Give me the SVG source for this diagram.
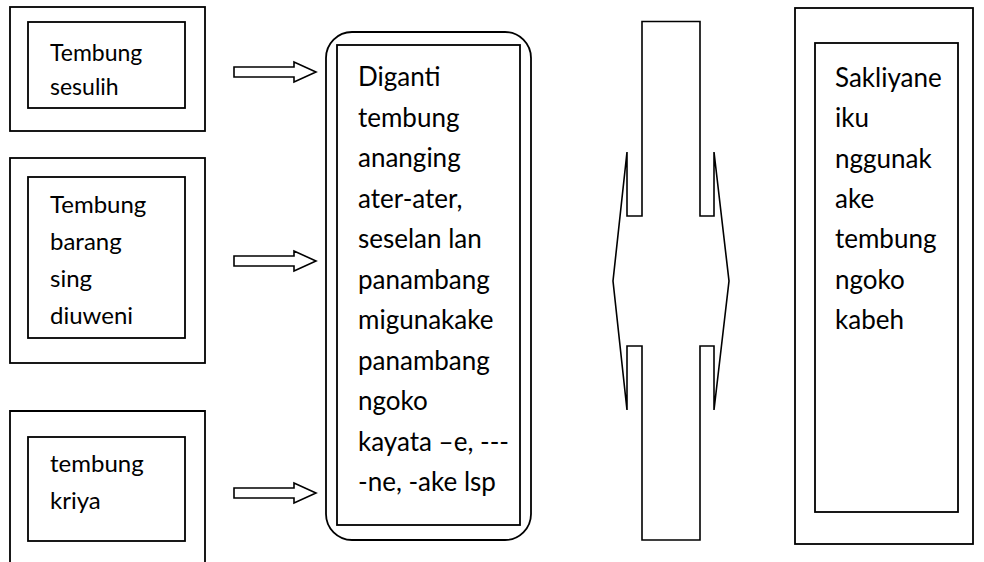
<svg xmlns="http://www.w3.org/2000/svg" width="984" height="562" viewBox="0 0 984 562">
  <style>
    .box { fill: none; stroke: #000; stroke-width: 1.8; }
    .arrow { fill: #fff; stroke: #000; stroke-width: 1.6; stroke-linejoin: miter; }
    .txt { font-family: Lato, "Open Sans", sans-serif; fill: #000; }
    .s1 { font-size: 23px; }
    .s2 { font-size: 24px; }
    .s3 { font-size: 26px; }
  </style>
  <rect width="984" height="562" fill="#fff"/>

  <!-- left column -->
  <g id="node-sesulih">
    <rect class="box" x="10" y="7" width="195" height="124"/>
    <rect class="box" x="28" y="22" width="157" height="86"/>
    <text class="txt s1" x="50">
      <tspan x="50" y="60.5">Tembung</tspan>
      <tspan x="50" y="95">sesulih</tspan>
    </text>
  </g>

  <g id="node-barang">
    <rect class="box" x="10" y="158" width="195" height="205"/>
    <rect class="box" x="28" y="177" width="157" height="161"/>
    <text class="txt s2" x="50">
      <tspan x="50" y="213">Tembung</tspan>
      <tspan x="50" y="250">barang</tspan>
      <tspan x="50" y="287">sing</tspan>
      <tspan x="50" y="324">diuweni</tspan>
    </text>
  </g>

  <g id="node-kriya">
    <path class="box" d="M10,563 V411 H205 V563"/>
    <rect class="box" x="28" y="437" width="157" height="104"/>
    <text class="txt s2" x="50">
      <tspan x="50" y="472">tembung</tspan>
      <tspan x="50" y="509">kriya</tspan>
    </text>
  </g>

  <!-- centre box -->
  <g id="node-diganti">
    <rect class="box" x="326" y="32" width="205" height="508" rx="26" ry="26"/>
    <rect class="box" x="337" y="45" width="183" height="480"/>
    <text class="txt s3" x="358">
      <tspan x="358" y="86">Diganti</tspan>
      <tspan x="358" y="126.5">tembung</tspan>
      <tspan x="358" y="167">ananging</tspan>
      <tspan x="358" y="207.5">ater-ater,</tspan>
      <tspan x="358" y="248">seselan lan</tspan>
      <tspan x="358" y="288.5">panambang</tspan>
      <tspan x="358" y="329">migunakake</tspan>
      <tspan x="358" y="369.5">panambang</tspan>
      <tspan x="358" y="410">ngoko</tspan>
      <tspan x="358" y="450.5">kayata –e, ---</tspan>
      <tspan x="358" y="491">-ne, -ake lsp</tspan>
    </text>
  </g>

  <!-- right box -->
  <g id="node-sakliyane">
    <rect class="box" x="795" y="8" width="178" height="536"/>
    <rect class="box" x="815" y="43" width="143" height="469"/>
    <text class="txt s3" x="835">
      <tspan x="835" y="87">Sakliyane</tspan>
      <tspan x="835" y="127.3">iku</tspan>
      <tspan x="835" y="167.6">nggunak</tspan>
      <tspan x="835" y="207.9">ake</tspan>
      <tspan x="835" y="248.2">tembung</tspan>
      <tspan x="835" y="288.5">ngoko</tspan>
      <tspan x="835" y="328.8">kabeh</tspan>
    </text>
  </g>

  <!-- connectors -->
  <g id="connectors">
    <path class="arrow" d="M234,67 H294 V62 L316,72 L294,82 V77 H234 Z"/>
    <path class="arrow" d="M234,256 H294 V251 L316,261 L294,271 V266 H234 Z"/>
    <path class="arrow" d="M234,488 H294 V483 L316,493 L294,503 V498 H234 Z"/>
    <!-- two-way block arrow between the centre and right boxes -->
    <path class="arrow" d="M627,152 V216 H642 V21.5 H700 V216 H714 V152 L729,281 L714,410 V346 H700 V540 H642 V346 H627 V410 L613,281 Z"/>
  </g>
</svg>
